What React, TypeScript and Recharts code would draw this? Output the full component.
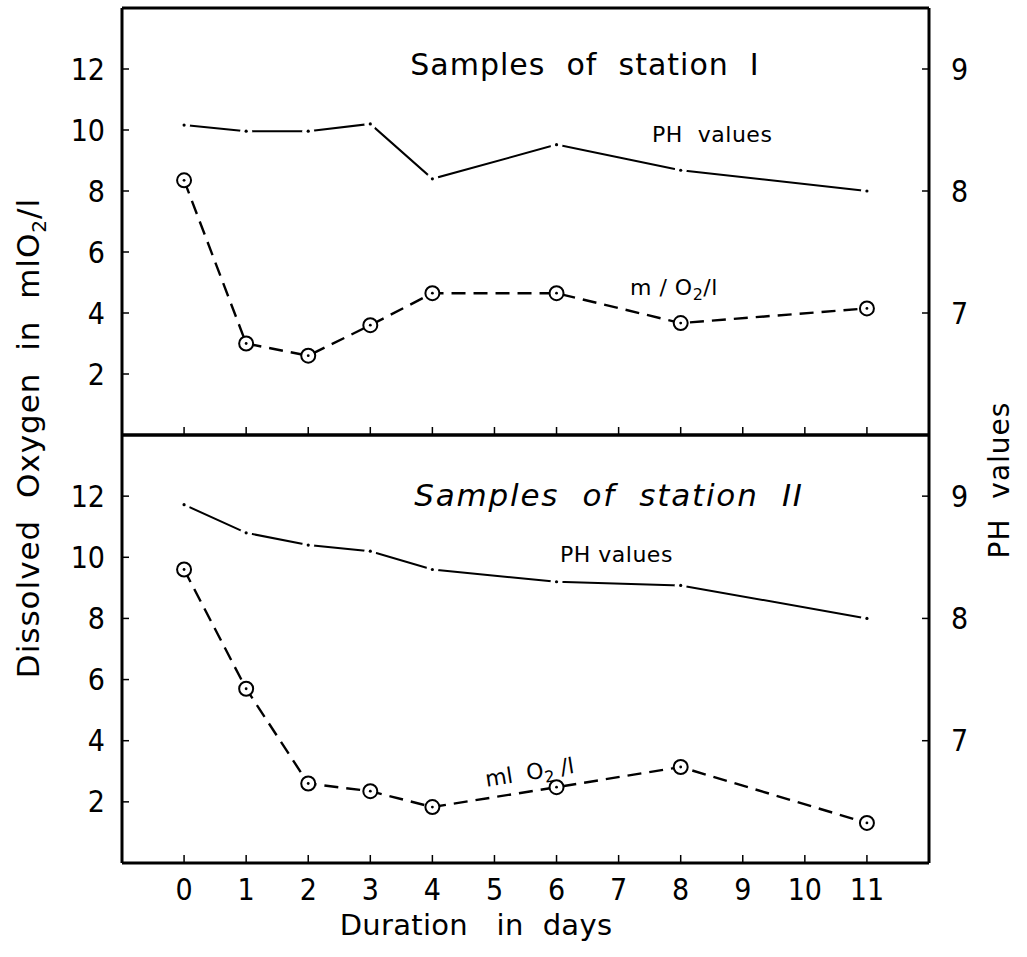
import React from 'react';
import { LineChart, Line, XAxis, YAxis } from 'recharts';

const days = [0, 1, 2, 3, 4, 6, 8, 11];
const station1Oxygen = [8.35, 3.0, 2.6, 3.6, 4.65, 4.65, 3.67, 4.15];
const station1PH = [8.54, 8.49, 8.49, 8.55, 8.1, 8.38, 8.17, 8.0];
const station2Oxygen = [9.6, 5.7, 2.6, 2.35, 1.83, 2.48, 3.14, 1.31];
const station2PH = [8.93, 8.7, 8.6, 8.55, 8.4, 8.3, 8.27, 8.0];
const dayTicks = [0, 1, 2, 3, 4, 5, 6, 7, 8, 9, 10, 11];
const oxygenTicks = [2, 4, 6, 8, 10, 12];
const phTicks = [7, 8, 9];

const FONT = "'DejaVu Sans Condensed', 'DejaVu Sans', sans-serif";
const FONT_W = "'DejaVu Sans', sans-serif";

const build = (ox: number[], ph: number[]) =>
  days.map((d, i) => ({ day: d, oxygen: ox[i], ph: ph[i] }));

const data1 = build(station1Oxygen, station1PH);
const data2 = build(station2Oxygen, station2PH);

const LeftTick = (p: any) => (
  <g>
    <line x1={p.x} x2={p.x + 7} y1={p.y} y2={p.y} stroke="#000" strokeWidth={1.5} />
    <text x={p.x - 17} y={p.y} textAnchor="end" dominantBaseline="central" fontSize={30} fontFamily={FONT} fill="#000">
      {p.payload.value}
    </text>
  </g>
);

const RightTick = (p: any) => (
  <g>
    <line x1={p.x} x2={p.x - 7} y1={p.y} y2={p.y} stroke="#000" strokeWidth={1.5} />
    <text x={p.x + 22} y={p.y} textAnchor="start" dominantBaseline="central" fontSize={30} fontFamily={FONT} fill="#000">
      {p.payload.value}
    </text>
  </g>
);

const BottomTickNoLabel = (p: any) => (
  <g>
    <line x1={p.x} x2={p.x} y1={p.y} y2={p.y - 8} stroke="#000" strokeWidth={1.5} />
  </g>
);

const BottomTick = (p: any) => (
  <g>
    <line x1={p.x} x2={p.x} y1={p.y} y2={p.y - 8} stroke="#000" strokeWidth={1.5} />
    <text x={p.x} y={p.y + 26} textAnchor="middle" dominantBaseline="central" fontSize={30} fontFamily={FONT} fill="#000">
      {p.payload.value}
    </text>
  </g>
);

const OxDot = (p: any) => (
  <g key={`o${p.index}`}>
    <circle cx={p.cx} cy={p.cy} r={7} fill="#fff" stroke="#000" strokeWidth={2} />
    <circle cx={p.cx} cy={p.cy} r={1.4} fill="#000" />
  </g>
);

const PhDot = (p: any) => (
  <g key={`p${p.index}`}>
    <circle cx={p.cx} cy={p.cy} r={6} fill="#fff" />
    <circle cx={p.cx} cy={p.cy} r={1.6} fill="#000" />
  </g>
);

const axisLine = { stroke: '#000', strokeWidth: 3 };

function Panel({ data, showLabels, height, margin }: any) {
  return (
    <LineChart width={1027} height={height} data={data} margin={margin}>
      <XAxis
        xAxisId="x"
        dataKey="day"
        type="number"
        domain={[-1, 12]}
        ticks={dayTicks}
        interval={0}
        height={2}
        tickSize={0}
        tickMargin={0}
        tickLine={false}
        axisLine={axisLine}
        tick={showLabels ? BottomTick : BottomTickNoLabel}
      />
      <XAxis
        xAxisId="t"
        orientation="top"
        type="number"
        domain={[-1, 12]}
        ticks={dayTicks}
        height={2}
        tick={false}
        tickLine={false}
        axisLine={axisLine}
      />
      <YAxis
        yAxisId="do"
        orientation="left"
        type="number"
        domain={[0, 14]}
        ticks={oxygenTicks}
        interval={0}
        width={122}
        tickSize={0}
        tickMargin={0}
        tickLine={false}
        axisLine={axisLine}
        tick={LeftTick}
      />
      <YAxis
        yAxisId="ph"
        orientation="right"
        type="number"
        domain={[6, 9.5]}
        ticks={phTicks}
        interval={0}
        width={98}
        tickSize={0}
        tickMargin={0}
        tickLine={false}
        axisLine={axisLine}
        tick={RightTick}
      />
      <Line
        xAxisId="x"
        yAxisId="ph"
        dataKey="ph"
        type="linear"
        stroke="#000"
        strokeWidth={2}
        dot={PhDot}
        activeDot={false}
        isAnimationActive={false}
      />
      <Line
        xAxisId="x"
        yAxisId="do"
        dataKey="oxygen"
        type="linear"
        stroke="#000"
        strokeWidth={2.4}
        strokeDasharray="14 8"
        dot={OxDot}
        activeDot={false}
        isAnimationActive={false}
      />
    </LineChart>
  );
}

const txt = (extra: React.CSSProperties): React.CSSProperties => ({
  position: 'absolute',
  fontFamily: FONT_W,
  color: '#000',
  whiteSpace: 'pre',
  lineHeight: 1,
  ...extra,
});

export default function App() {
  return (
    <div style={{ position: 'absolute', left: 0, top: 0, width: 1027, height: 957, background: '#fff', overflow: 'hidden' }}>
      <div style={{ position: 'absolute', left: 0, top: 0 }}>
        <Panel data={data1} showLabels={false} height={437} margin={{ top: 6, right: 0, bottom: 0, left: 0 }} />
      </div>
      <div style={{ position: 'absolute', left: 0, top: 433 }}>
        <Panel data={data2} showLabels={true} height={524} margin={{ top: 0, right: 0, bottom: 92, left: 0 }} />
      </div>

      <div style={txt({ left: 585, top: 65, fontSize: 30, letterSpacing: 1, transform: 'translate(-50%,-50%)' })}>Samples  of  station  I</div>
      <div style={txt({ left: 652, top: 135, fontSize: 22, letterSpacing: 0.5, transform: 'translate(0,-50%)' })}>PH  values</div>
      <div style={txt({ left: 630, top: 290, fontSize: 22, letterSpacing: 0.5, transform: 'translate(0,-50%)' })}>
        m / O<sub style={{ fontSize: 16 }}>2</sub>/l
      </div>

      <div style={txt({ left: 609, top: 495, fontSize: 31, letterSpacing: 1.8, fontStyle: 'italic', transform: 'translate(-50%,-50%)' })}>Samples  of  station  II</div>
      <div style={txt({ left: 560, top: 555, fontSize: 22, letterSpacing: 0.5, transform: 'translate(0,-50%)' })}>PH values</div>
      <div style={txt({ left: 530, top: 775, fontSize: 22, transform: 'translate(-50%,-50%) rotate(-9deg)' })}>
        ml  O<sub style={{ fontSize: 16 }}>2</sub> /l
      </div>

      <div style={txt({ left: 31, top: 438, fontSize: 31, letterSpacing: 1, transform: 'translate(-50%,-50%) rotate(-90deg)' })}>
        Dissolved  Oxygen  in  mlO<sub style={{ fontSize: 20 }}>2</sub>/l
      </div>
      <div style={txt({ left: 1000, top: 480, fontSize: 28, letterSpacing: 1, transform: 'translate(-50%,-50%) rotate(-90deg)' })}>PH  values</div>
      <div style={txt({ left: 476, top: 925, fontSize: 29, letterSpacing: 0.3, transform: 'translate(-50%,-50%)' })}>Duration   in  days</div>
    </div>
  );
}
